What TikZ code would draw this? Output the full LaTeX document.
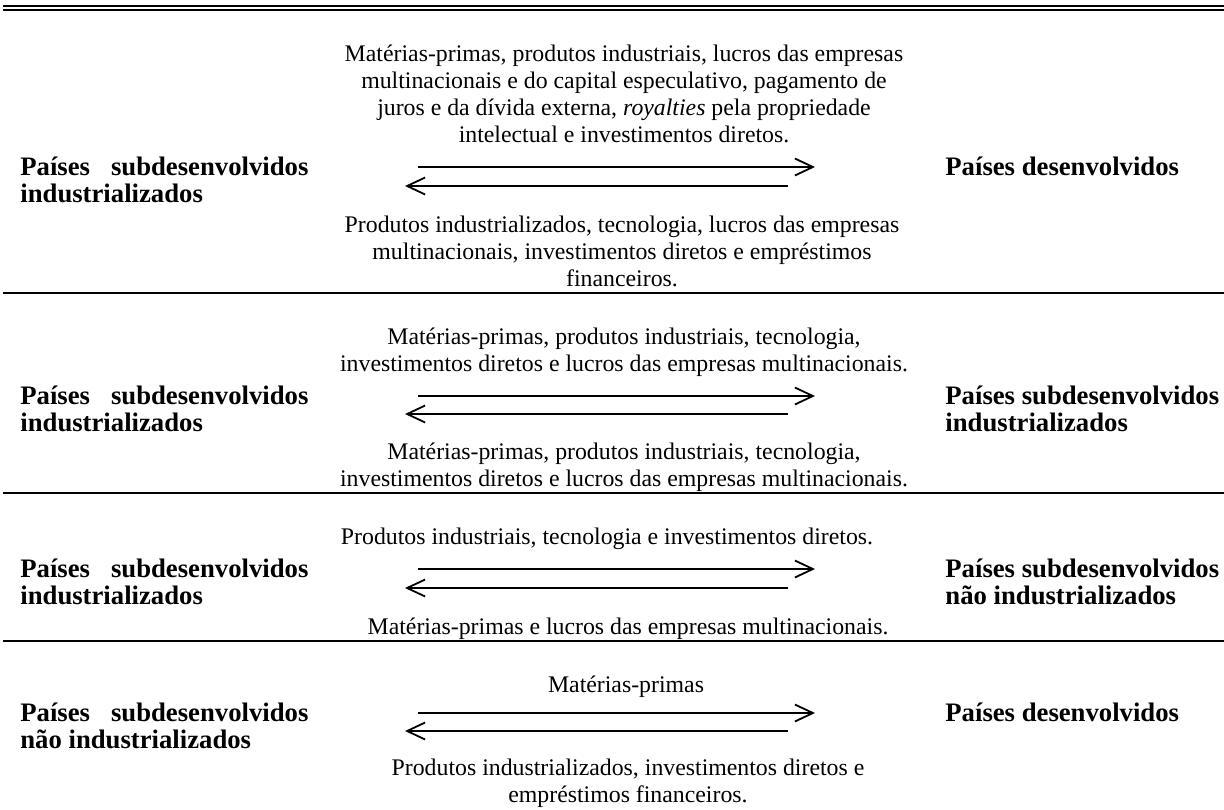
\documentclass[tikz,border=0pt]{standalone}
\usepackage{fontspec}
\setmainfont{Liberation Serif}
\usetikzlibrary{arrows.meta}
\newcommand{\clines}[1]{\vtop{\halign{\hfil##\hfil\cr#1\crcr}}}
\begin{document}
\begin{tikzpicture}[x=0.5pt,y=-0.5pt,
  txt/.style={font=\fontsize{11.9}{13.5}\selectfont, inner sep=0, anchor=base},
  lbl/.style={font=\fontsize{13.35}{13.5}\selectfont\bfseries, inner sep=0, anchor=base west},
  fwd/.style={line width=0.9pt, -{Straight Barb[length=9pt,width=8.5pt,line width=0.9pt]}},
  rule/.style={line width=1pt},
]
\useasboundingbox (0,0) rectangle (1224,809);
% top double rule
\coordinate (dl1) at (3,6); \coordinate (dr1) at (1224,6);
\coordinate (dl2) at (3,10); \coordinate (dr2) at (1224,10);
\draw[line width=0.65pt] (dl1) -- (dr1);
\draw[line width=1.1pt] (dl2) -- (dr2);

% ---------- block 1 ----------
\node[txt] (t1) at (624,61) {\clines{Matérias-primas, produtos industriais, lucros das empresas\cr multinacionais e do capital especulativo, pagamento de\cr juros e da dívida externa, \textit{royalties} pela propriedade\cr intelectual e investimentos diretos.}};
\coordinate (a1s) at (418,167); \coordinate (a1e) at (815,167);
\coordinate (b1s) at (788,186); \coordinate (b1e) at (405,186);
\draw[fwd] (a1s) -- (a1e);
\draw[fwd] (b1s) -- (b1e);
\node[lbl] (l1) at (20,175) {\vtop{\hbox to 144pt{Países\hfil subdesenvolvidos}\hbox{industrializados}}};
\node[lbl] (r1) at (945,175) {Países desenvolvidos};
\node[txt] (u1) at (622,232) {\clines{Produtos industrializados, tecnologia, lucros das empresas\cr multinacionais, investimentos diretos e empréstimos\cr financeiros.}};
\coordinate (s1l) at (3,293); \coordinate (s1r) at (1224,293);
\draw[rule] (s1l) -- (s1r);

% ---------- block 2 ----------
\node[txt] (t2) at (624,344) {\clines{Matérias-primas, produtos industriais, tecnologia,\cr investimentos diretos e lucros das empresas multinacionais.}};
\coordinate (a2s) at (418,396); \coordinate (a2e) at (815,396);
\coordinate (b2s) at (788,414); \coordinate (b2e) at (405,414);
\draw[fwd] (a2s) -- (a2e);
\draw[fwd] (b2s) -- (b2e);
\node[lbl] (l2) at (20,404) {\vtop{\hbox to 144pt{Países\hfil subdesenvolvidos}\hbox{industrializados}}};
\node[lbl] (r2) at (945,404) {\vtop{\hbox{Países subdesenvolvidos}\hbox{industrializados}}};
\node[txt] (u2) at (624,459) {\clines{Matérias-primas, produtos industriais, tecnologia,\cr investimentos diretos e lucros das empresas multinacionais.}};
\coordinate (s2l) at (3,493); \coordinate (s2r) at (1224,493);
\draw[rule] (s2l) -- (s2r);

% ---------- block 3 ----------
\node[txt] (t3) at (607,544) {Produtos industriais, tecnologia e investimentos diretos.};
\coordinate (a3s) at (418,569); \coordinate (a3e) at (815,569);
\coordinate (b3s) at (788,588); \coordinate (b3e) at (405,588);
\draw[fwd] (a3s) -- (a3e);
\draw[fwd] (b3s) -- (b3e);
\node[lbl] (l3) at (20,577) {\vtop{\hbox to 144pt{Países\hfil subdesenvolvidos}\hbox{industrializados}}};
\node[lbl] (r3) at (945,577) {\vtop{\hbox{Países subdesenvolvidos}\hbox{não industrializados}}};
\node[txt] (u3) at (628,634) {Matérias-primas e lucros das empresas multinacionais.};
\coordinate (s3l) at (3,641); \coordinate (s3r) at (1224,641);
\draw[rule] (s3l) -- (s3r);

% ---------- block 4 ----------
\node[txt] (t4) at (626,692) {Matérias-primas};
\coordinate (a4s) at (418,713); \coordinate (a4e) at (815,713);
\coordinate (b4s) at (788,731); \coordinate (b4e) at (405,731);
\draw[fwd] (a4s) -- (a4e);
\draw[fwd] (b4s) -- (b4e);
\node[lbl] (l4) at (20,721) {\vtop{\hbox to 144pt{Países\hfil subdesenvolvidos}\hbox{não industrializados}}};
\node[lbl] (r4) at (945,721) {Países desenvolvidos};
\node[txt] (u4) at (628,775) {\clines{Produtos industrializados, investimentos diretos e\cr empréstimos financeiros.}};
\end{tikzpicture}
\end{document}
